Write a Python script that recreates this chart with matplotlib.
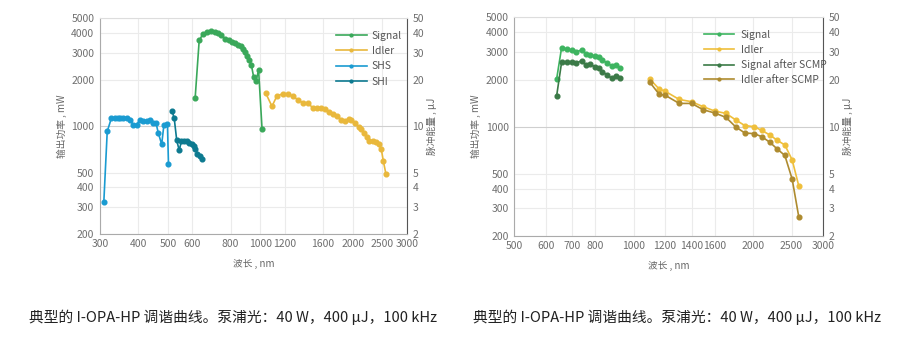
import matplotlib
matplotlib.use('Agg')
import matplotlib.pyplot as plt
from matplotlib.ticker import FixedLocator, NullLocator, FixedFormatter

plt.rcParams['font.family'] = ['Noto Sans CJK SC', 'DejaVu Sans']

# left panel data (wavelength nm, power mW)
shs_wl = [309, 317, 327, 336, 343, 350, 357, 367, 376, 385, 395, 405, 416, 426,
          437, 448, 457, 465, 477, 485, 498, 502]
shs_pw = [322, 923, 1125, 1130, 1125, 1125, 1130, 1136, 1103, 1019, 1019, 1098,
          1077, 1077, 1098, 1050, 1050, 902, 762, 1019, 1030, 565]

shi_wl = [516, 524, 534, 544, 553, 563, 576, 587, 598, 607, 613, 624, 635, 644]
shi_pw = [1248, 1125, 808, 697, 796, 796, 805, 778, 766, 740, 712, 664, 638, 610]

sig_wl = [613, 632, 651, 671, 692, 709, 727, 746, 768, 788, 808, 829, 845, 862,
          875, 893, 907, 920, 935, 951, 967, 987, 1013]
sig_pw = [1512, 3596, 3971, 4048, 4109, 4073, 4011, 3912, 3671, 3634, 3527, 3461,
          3376, 3290, 3165, 3011, 2838, 2676, 2486, 2080, 1962, 2298, 951]

idl_wl = [1041, 1091, 1133, 1186, 1235, 1278, 1331, 1378, 1431, 1479, 1531, 1582,
          1626, 1676, 1727, 1780, 1834, 1882, 1939, 1978, 2033, 2090, 2132, 2176,
          2221, 2264, 2323, 2381, 2430, 2478, 2516, 2567]
idl_pw = [1636, 1344, 1572, 1619, 1605, 1558, 1475, 1411, 1411, 1316, 1305, 1305,
          1291, 1241, 1194, 1159, 1103, 1081, 1114, 1098, 1045, 994, 951, 902,
          850, 805, 796, 789, 770, 708, 593, 487]

# right panel data
sig2_wl = [639, 658, 678, 697, 717, 739, 757, 778, 798, 817, 833, 856, 880, 900, 921]
sig2_pw = [2001, 3199, 3121, 3075, 3004, 3093, 2917, 2858, 2817, 2792, 2656, 2568,
           2446, 2493, 2376]
sig2_scmp = [1560, 2579, 2579, 2579, 2541, 2644, 2468, 2504, 2411, 2386, 2240, 2153,
             2031, 2100, 2052]

idl2_wl = [1099, 1160, 1199, 1302, 1399, 1496, 1601, 1708, 1809, 1906, 2009, 2100,
           2204, 2299, 2404, 2508, 2607]
idl2_pw = [2010, 1736, 1686, 1492, 1443, 1341, 1257, 1215, 1102, 1015, 1000, 947,
           884, 818, 763, 613, 417]
idl2_scmp = [1915, 1606, 1590, 1407, 1407, 1283, 1221, 1146, 994, 910, 902, 864,
             794, 720, 654, 462, 264]

left_xticks = [300, 400, 500, 600, 800, 1000, 1200, 1600, 2000, 2500, 3000]
right_xticks = [500, 600, 700, 800, 1000, 1200, 1400, 1600, 2000, 2500, 3000]
mw_ticks = [200, 300, 400, 500, 1000, 2000, 3000, 4000, 5000]
uj_ticks = [2, 3, 4, 5, 10, 20, 30, 40, 50]

caption = '典型的 I-OPA-HP 调谐曲线。泵浦光：40 W，400 µJ，100 kHz'

tick_col = '#6f6f6f'
grid_col = '#ebebeb'


def setup_axes(ax, xticks, xlim):
    ax.set_xscale('log')
    ax.set_yscale('log')
    ax.set_xlim(*xlim)
    ax.set_ylim(200, 5000)
    ax.xaxis.set_major_locator(FixedLocator(xticks))
    ax.xaxis.set_major_formatter(FixedFormatter([str(t) for t in xticks]))
    ax.xaxis.set_minor_locator(NullLocator())
    ax.yaxis.set_major_locator(FixedLocator(mw_ticks))
    ax.yaxis.set_major_formatter(FixedFormatter([str(t) for t in mw_ticks]))
    ax.yaxis.set_minor_locator(NullLocator())
    ax.tick_params(length=0, labelsize=7.5, colors=tick_col, pad=4)
    ax.grid(True, color=grid_col, linewidth=0.8)
    ax.set_axisbelow(True)
    for g, t in zip(ax.get_ygridlines(), mw_ticks):
        if t == 1000:
            g.set_color('#cfcfcf')
    ax.spines['top'].set_color('#dddddd')
    ax.spines['left'].set_color('#aaaaaa')
    ax.spines['bottom'].set_color('#aaaaaa')
    ax.spines['right'].set_color('#555555')
    for s in ax.spines.values():
        s.set_linewidth(0.8)
    ax.set_xlabel('波长 , nm', fontsize=7, color='#666666', labelpad=7)
    ax.set_ylabel('输出功率 , mW', fontsize=7, color='#666666', labelpad=3)

    ax2 = ax.twinx()
    ax2.set_yscale('log')
    ax2.set_ylim(2, 50)
    ax2.yaxis.set_major_locator(FixedLocator(uj_ticks))
    ax2.yaxis.set_major_formatter(FixedFormatter([str(t) for t in uj_ticks]))
    ax2.yaxis.set_minor_locator(NullLocator())
    ax2.tick_params(length=0, labelsize=7.5, colors=tick_col, pad=4)
    for s in ax2.spines.values():
        s.set_visible(False)
    ax2.set_ylabel('脉冲能量 , µJ', fontsize=7, color='#666666', rotation=90, labelpad=2)
    return ax2


fig = plt.figure(figsize=(9.08, 3.39), dpi=100)

ax1 = fig.add_axes([0.110, 0.310, 0.338, 0.636])
setup_axes(ax1, left_xticks, (300, 3000))
kw = dict(linewidth=1.2, marker='o', markersize=3.4)
ax1.plot(sig_wl, sig_pw, color='#3aa85a', label='Signal', **kw)
ax1.plot(idl_wl, idl_pw, color='#e9b83c', label='Idler', **kw)
ax1.plot(shs_wl, shs_pw, color='#1a9bd1', label='SHS', **kw)
ax1.plot(shi_wl, shi_pw, color='#0d7a90', label='SHI', **kw)
leg = ax1.legend(loc='upper left', bbox_to_anchor=(0.74, 0.985), frameon=False,
                 fontsize=7.5, handlelength=2.9, handletextpad=0.5, labelspacing=0.5,
                 markerscale=0.6)
for t in leg.get_texts():
    t.set_color('#555555')

ax3 = fig.add_axes([0.5664, 0.304, 0.340, 0.645])
setup_axes(ax3, right_xticks, (500, 3000))
ax3.plot(sig2_wl, sig2_pw, color='#3db460', label='Signal', **kw)
ax3.plot(idl2_wl, idl2_pw, color='#efbf3b', label='Idler', **kw)
ax3.plot(sig2_wl, sig2_scmp, color='#3b7a47', label='Signal after SCMP', **kw)
ax3.plot(idl2_wl, idl2_scmp, color='#ae8b2f', label='Idler after SCMP', **kw)
leg = ax3.legend(loc='upper left', bbox_to_anchor=(0.585, 0.985), frameon=False,
                 fontsize=7.5, handlelength=2.9, handletextpad=0.6, labelspacing=0.45,
                 markerscale=0.6)
for t in leg.get_texts():
    t.set_color('#555555')

fig.text(0.2566, 0.065, caption, ha='center', va='center', fontsize=10.6, color='#222222')
fig.text(0.746, 0.065, caption, ha='center', va='center', fontsize=10.6, color='#222222')

fig.savefig('out.png', dpi=100)
